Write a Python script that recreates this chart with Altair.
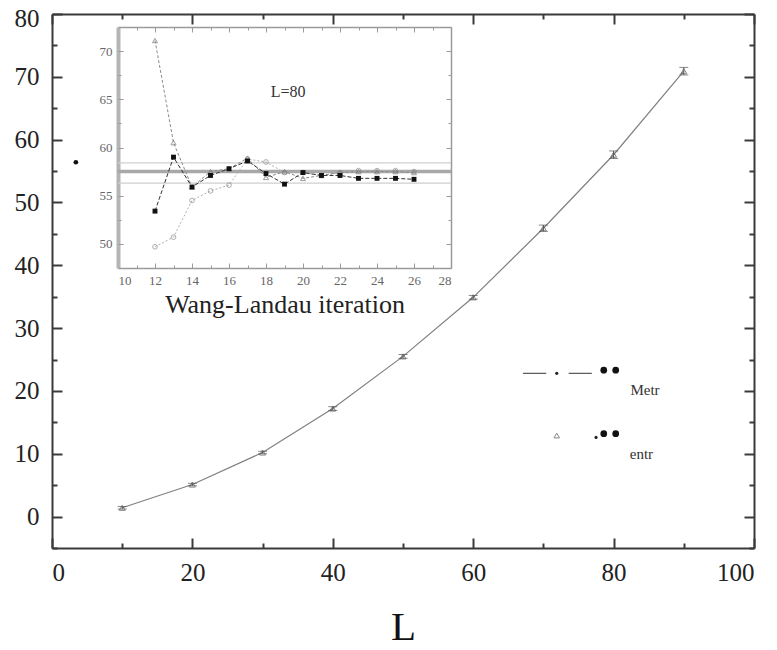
import altair as alt
import pandas as pd

# ---------------- main panel data ----------------
L_vals = [10, 20, 30, 40, 50, 60, 70, 80, 90]
E_vals = [1.4, 5.1, 10.2, 17.2, 25.5, 34.9, 45.9, 57.6, 70.9]
E_err = [0.2, 0.2, 0.2, 0.3, 0.3, 0.3, 0.5, 0.6, 0.6]

# stray dot at left
stray_x = [3.4]
stray_y = [56.4]

# legend pieces (main-panel coordinates)
leg_dash_x = [67.1, 73.6]
leg_dash_x2 = [70.4, 76.9]
leg_dash_y = [22.8, 22.8]
leg_small_x = [71.9, 77.5]
leg_small_y = [22.8, 12.6]
leg_big_x = [78.6, 80.3, 78.6, 80.3]
leg_big_y = [23.3, 23.3, 13.2, 13.2]
leg_tri_x = [71.9]
leg_tri_y = [12.9]
leg_text = ["Metr", "entr"]
leg_text_x = [82.4, 82.3]
leg_text_y = [20.1, 10.0]

# ---------------- inset data ----------------
iters = [12, 13, 14, 15, 16, 17, 18, 19, 20, 21, 22, 23, 24, 25, 26]
ser_a = [53.4, 59.0, 55.9, 57.1, 57.8, 58.6, 57.3, 56.2, 57.4, 57.1, 57.1, 56.8, 56.8, 56.8, 56.7]
ser_b = [71.1, 60.5, 55.9, 57.5, 57.8, 58.9, 56.9, 57.5, 56.8, 57.1, 57.4, 57.5, 57.5, 57.5, 57.4]
ser_c = [49.7, 50.7, 54.5, 55.5, 56.1, 58.8, 58.5, 57.4, 57.4, 57.1, 57.4, 57.6, 57.6, 57.6, 57.5]
h_thin = [58.4, 56.3]
h_thick = [57.5]
inset_label = ["L=80"]
inset_label_x = [19.2]
inset_label_y = [65.8]

FONT = "Liberation Serif"
W, H = 702, 534

# main scales
xs = alt.Scale(domain=[0, 100], nice=False, zero=False)
ys = alt.Scale(domain=[-5, 80], nice=False, zero=False)
# inset scales (pixel range inside main plot area)
IX0, IX1, IY0, IY1 = 66, 399, 254, 13
xi = alt.Scale(domain=[10, 28], nice=False, zero=False, range=[IX0, IX1])
yi = alt.Scale(domain=[47.5, 72.5], nice=False, zero=False, range=[IY0, IY1])

df_main = pd.DataFrame({"L": L_vals, "E": E_vals, "err": E_err})
df_main["lo"] = df_main["E"] - df_main["err"]
df_main["hi"] = df_main["E"] + df_main["err"]


def carrier(df, xf, yf, xsc, ysc, xax, yax):
    return alt.Chart(df).mark_point(opacity=0).encode(
        x=alt.X(xf, type="quantitative", scale=xsc, axis=xax),
        y=alt.Y(yf, type="quantitative", scale=ysc, axis=yax),
    )


def tick_axis(orient, offset, values, size, color, width, domain=False, dwidth=1):
    return alt.Axis(orient=orient, offset=offset, values=values, labels=False,
                    ticks=True, tickSize=size, tickColor=color, tickWidth=width,
                    domain=domain, domainColor=color, domainWidth=dwidth,
                    grid=False, title=None)


MC = "#3a3a3a"
x_major = [0, 20, 40, 60, 80, 100]
x_minor = [10, 30, 50, 70, 90]
y_major = [0, 10, 20, 30, 40, 50, 60, 70, 80]
y_minor = [-5, 5, 15, 25, 35, 45, 55, 65, 75]

main_axes = [
    carrier(df_main, "L", "E", xs, ys,
            alt.Axis(orient="bottom", values=x_major, ticks=False, tickSize=0,
                     labelPadding=12, labelFont=FONT, labelFontSize=25, labelColor="#222",
                     domain=True, domainColor=MC, domainWidth=2, grid=False,
                     title="L", titleFont=FONT, titleFontSize=41, titleFontWeight="normal",
                     titleColor="#111", titleBaseline="alphabetic", titleY=91),
            alt.Axis(orient="left", values=y_major, ticks=False, tickSize=0,
                     labelPadding=13, labelFont=FONT, labelFontSize=25, labelColor="#222",
                     labelOffset={"condition": {"test": "datum.value == 80", "value": 4}, "value": 0},
                     domain=True, domainColor=MC, domainWidth=2, grid=False, title=None)),
    carrier(df_main, "L", "E", xs, ys,
            tick_axis("top", -H, x_major, 10, MC, 2),
            tick_axis("right", -W, y_major, 10, MC, 2)),
    carrier(df_main, "L", "E", xs, ys,
            tick_axis("top", -H, x_minor, 5, MC, 2),
            tick_axis("right", -W, y_minor, 5, MC, 2)),
    carrier(df_main, "L", "E", xs, ys,
            tick_axis("bottom", -H, x_major, 10, MC, 2, True, 2),
            tick_axis("left", -W, y_major, 10, MC, 2, True, 2)),
    carrier(df_main, "L", "E", xs, ys,
            tick_axis("bottom", -H, x_minor, 5, MC, 2),
            tick_axis("left", -W, y_minor, 5, MC, 2)),
]

X = lambda f: alt.X(f, type="quantitative", scale=xs, axis=None)
Y = lambda f: alt.Y(f, type="quantitative", scale=ys, axis=None)

main_line = alt.Chart(df_main).mark_line(color="#808080", strokeWidth=1.2).encode(x=X("L"), y=Y("E"))
main_err = alt.Chart(df_main).mark_rule(color="#555", strokeWidth=1).encode(
    x=X("L"), y=Y("lo"), y2="hi")
main_cap_lo = alt.Chart(df_main).mark_tick(orient="horizontal", size=9, thickness=1, color="#555").encode(
    x=X("L"), y=Y("lo"))
main_cap_hi = alt.Chart(df_main).mark_tick(orient="horizontal", size=9, thickness=1, color="#555").encode(
    x=X("L"), y=Y("hi"))
main_tri = alt.Chart(df_main).mark_point(shape="triangle-up", size=35, filled=False,
                                         color="#555", strokeWidth=1).encode(x=X("L"), y=Y("E"))

df_stray = pd.DataFrame({"x": stray_x, "y": stray_y})
stray = alt.Chart(df_stray).mark_point(filled=True, color="#111", size=22, opacity=1).encode(
    x=X("x"), y=Y("y"))

df_dash = pd.DataFrame({"x": leg_dash_x, "x2": leg_dash_x2, "y": leg_dash_y})
leg_dash = alt.Chart(df_dash).mark_rule(color="#555", strokeWidth=1.2).encode(
    x=X("x"), x2="x2", y=Y("y"))
df_small = pd.DataFrame({"x": leg_small_x, "y": leg_small_y})
leg_small = alt.Chart(df_small).mark_point(filled=True, color="#222", size=10, opacity=1).encode(
    x=X("x"), y=Y("y"))
df_big = pd.DataFrame({"x": leg_big_x, "y": leg_big_y})
leg_big = alt.Chart(df_big).mark_point(filled=True, color="#111", size=45, opacity=1).encode(
    x=X("x"), y=Y("y"))
df_tri = pd.DataFrame({"x": leg_tri_x, "y": leg_tri_y})
leg_tri = alt.Chart(df_tri).mark_point(shape="triangle-up", size=30, filled=False,
                                       color="#555", strokeWidth=1).encode(x=X("x"), y=Y("y"))
df_lt = pd.DataFrame({"x": leg_text_x, "y": leg_text_y, "t": leg_text})
leg_txt = alt.Chart(df_lt).mark_text(font=FONT, fontSize=15, color="#333", align="left",
                                     baseline="middle").encode(x=X("x"), y=Y("y"), text="t:N")

main = alt.layer(*main_axes, main_line, main_err, main_cap_lo, main_cap_hi, main_tri,
                 stray, leg_dash, leg_small, leg_big, leg_tri, leg_txt
                 ).resolve_axis(x="independent", y="independent")

# ---------------- inset ----------------
IC = "#9a9a9a"
ix_major = [10, 12, 14, 16, 18, 20, 22, 24, 26, 28]
ix_minor = [11, 13, 15, 17, 19, 21, 23, 25, 27]
iy_major = [50, 55, 60, 65, 70]
iy_minor = [47.5, 52.5, 57.5, 62.5, 67.5, 72.5]

df_in = pd.DataFrame({"it": iters, "a": ser_a, "b": ser_b, "c": ser_c})

inset_axes = [
    carrier(df_in, "it", "a", xi, yi,
            alt.Axis(orient="bottom", offset=IY0 - H, values=ix_major, ticks=False, tickSize=0,
                     labelPadding=6, labelFont=FONT, labelFontSize=13, labelColor="#666",
                     domain=True, domainColor=IC, domainWidth=1.5, grid=False,
                     title="Wang-Landau iteration", titleFont=FONT, titleFontSize=26,
                     titleFontWeight="normal", titleColor="#222", titleBaseline="alphabetic",
                     titleY=44),
            alt.Axis(orient="left", offset=-IX0, values=iy_major, ticks=False, tickSize=0,
                     labelPadding=6, labelFont=FONT, labelFontSize=13, labelColor="#666",
                     domain=True, domainColor="#b5b5b5", domainWidth=4, grid=False, title=None)),
    carrier(df_in, "it", "a", xi, yi,
            tick_axis("top", -IY0, ix_major, 5, IC, 1),
            tick_axis("right", -(W - IX0), iy_major, 5, IC, 1)),
    carrier(df_in, "it", "a", xi, yi,
            tick_axis("top", -IY0, ix_minor, 3, IC, 1),
            tick_axis("right", -(W - IX0), iy_minor, 3, IC, 1)),
    carrier(df_in, "it", "a", xi, yi,
            tick_axis("bottom", IY1 - H, ix_major, 5, IC, 1, True, 1.5),
            tick_axis("left", -IX1, iy_major, 5, IC, 1, True, 1.5)),
    carrier(df_in, "it", "a", xi, yi,
            tick_axis("bottom", IY1 - H, ix_minor, 3, IC, 1),
            tick_axis("left", -IX1, iy_minor, 3, IC, 1)),
]

XI = lambda f: alt.X(f, type="quantitative", scale=xi, axis=None)
YI = lambda f: alt.Y(f, type="quantitative", scale=yi, axis=None)

df_hthin = pd.DataFrame({"y": h_thin})
h_thin_l = alt.Chart(df_hthin).mark_rule(color="#cfcfcf", strokeWidth=1.3).encode(
    x=alt.X(datum=10, type="quantitative", scale=xi, axis=None), x2=alt.datum(28), y=YI("y"))
df_hthick = pd.DataFrame({"y": h_thick})
h_thick_l = alt.Chart(df_hthick).mark_rule(color="#a8a8a8", strokeWidth=3.5).encode(
    x=alt.X(datum=10, type="quantitative", scale=xi, axis=None), x2=alt.datum(28), y=YI("y"))

line_c = alt.Chart(df_in).mark_line(color="#b0b0b0", strokeWidth=1, strokeDash=[2, 2]).encode(
    x=XI("it"), y=YI("c"))
pts_c = alt.Chart(df_in).mark_point(shape="circle", size=22, filled=False, color="#8a8a8a",
                                    strokeWidth=1).encode(x=XI("it"), y=YI("c"))
line_b = alt.Chart(df_in).mark_line(color="#8a8a8a", strokeWidth=1, strokeDash=[3, 2]).encode(
    x=XI("it"), y=YI("b"))
pts_b = alt.Chart(df_in).mark_point(shape="triangle-up", size=26, filled=False, color="#777",
                                    strokeWidth=1).encode(x=XI("it"), y=YI("b"))
line_a = alt.Chart(df_in).mark_line(color="#333", strokeWidth=1, strokeDash=[4, 2]).encode(
    x=XI("it"), y=YI("a"))
pts_a = alt.Chart(df_in).mark_point(shape="square", size=24, filled=True, color="#111",
                                    opacity=1).encode(x=XI("it"), y=YI("a"))

df_il = pd.DataFrame({"x": inset_label_x, "y": inset_label_y, "t": inset_label})
inset_txt = alt.Chart(df_il).mark_text(font=FONT, fontSize=16, color="#333").encode(
    x=XI("x"), y=YI("y"), text="t:N")

inset = alt.layer(*inset_axes, h_thin_l, h_thick_l, line_c, pts_c, line_b, pts_b,
                  line_a, pts_a, inset_txt).resolve_axis(x="independent", y="independent")

chart = alt.layer(main, inset).resolve_scale(
    x="independent", y="independent").resolve_axis(
    x="independent", y="independent").properties(
    width=W, height=H,
    autosize=alt.AutoSizeParams(type="none"),
    padding={"left": 44, "top": 6, "right": 15, "bottom": 100},
).configure_view(stroke=None).configure(background="white", font=FONT).configure_axis(
    labelFont=FONT, titleFont=FONT).configure_text(font=FONT)

chart.save("out.html", embed_options={"renderer": "svg", "actions": False})
